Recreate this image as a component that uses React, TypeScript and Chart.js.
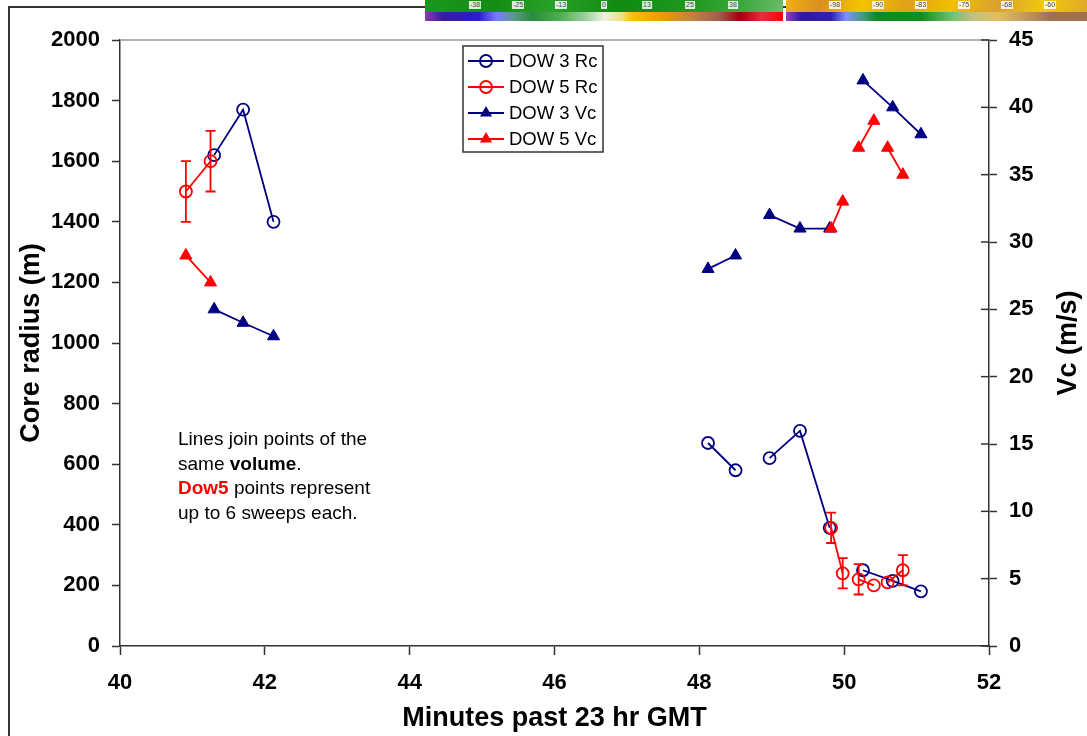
import React, { useEffect, useRef } from "react";
import { Chart, registerables } from "chart.js";

Chart.register(...registerables);

// ---------- data ----------
const dow3Time = [41.3, 41.7, 42.12, 48.12, 48.5, 48.97, 49.39, 49.8, 50.26, 50.67, 51.06];
const dow3Volume = [1, 1, 1, 2, 2, 3, 3, 3, 4, 4, 4];
const dow3Rc = [1620, 1770, 1400, 670, 580, 620, 710, 390, 250, 215, 180];
const dow3Vc = [25, 24, 23, 28, 29, 32, 31, 31, 42, 40, 38];

const dow5Time = [40.91, 41.25, 49.82, 49.98, 50.2, 50.41, 50.6, 50.81];
const dow5Volume = [1, 1, 2, 2, 3, 3, 4, 4];
const dow5Rc = [1500, 1600, 390, 240, 220, 200, 210, 250];
const dow5RcErr = [100, 100, 50, 50, 50, 0, 0, 50];
const dow5Vc = [29, 27, 31, 33, 37, 39, 37, 35];

const seriesLabels = ["DOW 3 Rc", "DOW 5 Rc", "DOW 3 Vc", "DOW 5 Vc"];

const xTitle = "Minutes past 23 hr GMT";
const yTitle = "Core radius (m)";
const y1Title = "Vc (m/s)";

const leftBarLabels = ["-38", "-25", "-13", "0", "13", "25", "38"];
const rightBarLabels = ["-98", "-90", "-83", "-75", "-68", "-60"];

const NAVY = "#000080";
const RED = "#ff0000";
const FONT = "'Liberation Sans', Arial, Helvetica, sans-serif";

function toPoints(times: number[], vols: number[], vals: number[]) {
  const out: { x: number; y: number | null }[] = [];
  for (let i = 0; i < times.length; i++) {
    if (i > 0 && vols[i] !== vols[i - 1]) {
      out.push({ x: (times[i - 1] + times[i]) / 2, y: null });
    }
    out.push({ x: times[i], y: vals[i] });
  }
  return out;
}

function drawMarker(ctx: CanvasRenderingContext2D, style: string, x: number, y: number, color: string) {
  ctx.save();
  ctx.strokeStyle = color;
  ctx.fillStyle = color;
  ctx.lineWidth = 1.8;
  ctx.beginPath();
  if (style === "circle") {
    ctx.arc(x, y, 6, 0, Math.PI * 2);
    ctx.stroke();
  } else {
    const r = 7;
    let a = 0;
    ctx.moveTo(x + Math.sin(a) * r, y - Math.cos(a) * r);
    a += (2 * Math.PI) / 3;
    ctx.lineTo(x + Math.sin(a) * r, y - Math.cos(a) * r);
    a += (2 * Math.PI) / 3;
    ctx.lineTo(x + Math.sin(a) * r, y - Math.cos(a) * r);
    ctx.closePath();
    ctx.fill();
  }
  ctx.restore();
}

const decorPlugin = {
  id: "decor",
  afterDatasetsDraw(chart: any) {
    const ctx: CanvasRenderingContext2D = chart.ctx;
    const xs = chart.scales.x;
    const ys = chart.scales.y;
    // error bars for DOW 5 Rc
    ctx.save();
    ctx.strokeStyle = RED;
    ctx.lineWidth = 1.8;
    for (let i = 0; i < dow5Time.length; i++) {
      const e = dow5RcErr[i];
      if (!e) continue;
      const px = xs.getPixelForValue(dow5Time[i]);
      const top = ys.getPixelForValue(dow5Rc[i] + e);
      const bot = ys.getPixelForValue(dow5Rc[i] - e);
      ctx.beginPath();
      ctx.moveTo(px, top);
      ctx.lineTo(px, bot);
      ctx.moveTo(px - 5, top);
      ctx.lineTo(px + 5, top);
      ctx.moveTo(px - 5, bot);
      ctx.lineTo(px + 5, bot);
      ctx.stroke();
    }
    ctx.restore();
  },
  afterDraw(chart: any) {
    const ctx: CanvasRenderingContext2D = chart.ctx;
    const area = chart.chartArea;
    const y1 = chart.scales.y1;
    ctx.save();
    // plot area top border (gray)
    ctx.strokeStyle = "#9a9a9a";
    ctx.lineWidth = 1.5;
    ctx.beginPath();
    ctx.moveTo(area.left, area.top);
    ctx.lineTo(area.right, area.top);
    ctx.stroke();
    // inside part of right axis ticks
    ctx.strokeStyle = "#333";
    ctx.lineWidth = 1.5;
    y1.ticks.forEach((t: any) => {
      const py = y1.getPixelForValue(t.value);
      ctx.beginPath();
      ctx.moveTo(area.right - 8, py);
      ctx.lineTo(area.right, py);
      ctx.stroke();
    });
    // right axis title (reads bottom-up)
    ctx.translate(1069, (area.top + area.bottom) / 2);
    ctx.rotate(-Math.PI / 2);
    ctx.fillStyle = "#000";
    ctx.font = `bold 27px ${FONT}`;
    ctx.textAlign = "center";
    ctx.textBaseline = "middle";
    ctx.fillText(y1Title, 0, 0);
    ctx.restore();

    // legend box
    ctx.save();
    const bx = 463, by = 46, bw = 140, bh = 106;
    ctx.fillStyle = "#fff";
    ctx.fillRect(bx, by, bw, bh);
    ctx.strokeStyle = "#333";
    ctx.lineWidth = 1.5;
    ctx.strokeRect(bx, by, bw, bh);
    const colors = [NAVY, RED, NAVY, RED];
    const styles = ["circle", "circle", "triangle", "triangle"];
    ctx.font = `18.5px ${FONT}`;
    ctx.textBaseline = "middle";
    ctx.textAlign = "left";
    for (let i = 0; i < seriesLabels.length; i++) {
      const cy = 61 + i * 26;
      ctx.strokeStyle = colors[i];
      ctx.lineWidth = 1.8;
      ctx.beginPath();
      ctx.moveTo(468, cy);
      ctx.lineTo(504, cy);
      ctx.stroke();
      drawMarker(ctx, styles[i], 486, cy, colors[i]);
      ctx.fillStyle = "#000";
      ctx.fillText(seriesLabels[i], 509, cy + 1);
    }
    ctx.restore();
  },
};

const tickFont = { family: FONT, size: 22, weight: "bold" as const };
const titleFont = { family: FONT, size: 27, weight: "bold" as const };
const plainLabel = (v: any) => String(v);

export default function App() {
  const ref = useRef<HTMLCanvasElement>(null);

  useEffect(() => {
    const canvas = ref.current;
    if (!canvas) return;
    const lineBase = {
      type: "line" as const,
      showLine: true,
      spanGaps: false,
      tension: 0,
      borderWidth: 1.8,
      pointBorderWidth: 1.8,
    };
    const chart = new Chart(canvas, {
      type: "line",
      data: {
        datasets: [
          {
            ...lineBase,
            label: seriesLabels[0],
            data: toPoints(dow3Time, dow3Volume, dow3Rc) as any,
            borderColor: NAVY,
            pointBorderColor: NAVY,
            pointBackgroundColor: "rgba(0,0,0,0)",
            pointStyle: "circle",
            pointRadius: 6,
            yAxisID: "y",
            order: 4,
          },
          {
            ...lineBase,
            label: seriesLabels[1],
            data: toPoints(dow5Time, dow5Volume, dow5Rc) as any,
            borderColor: RED,
            pointBorderColor: RED,
            pointBackgroundColor: "rgba(0,0,0,0)",
            pointStyle: "circle",
            pointRadius: 6,
            yAxisID: "y",
            order: 3,
          },
          {
            ...lineBase,
            label: seriesLabels[2],
            data: toPoints(dow3Time, dow3Volume, dow3Vc) as any,
            borderColor: NAVY,
            pointBorderColor: NAVY,
            pointBackgroundColor: NAVY,
            pointStyle: "triangle",
            pointRadius: 7,
            pointBorderWidth: 1,
            yAxisID: "y1",
            order: 2,
          },
          {
            ...lineBase,
            label: seriesLabels[3],
            data: toPoints(dow5Time, dow5Volume, dow5Vc) as any,
            borderColor: RED,
            pointBorderColor: RED,
            pointBackgroundColor: RED,
            pointStyle: "triangle",
            pointRadius: 7,
            pointBorderWidth: 1,
            yAxisID: "y1",
            order: 1,
          },
        ],
      },
      options: {
        responsive: false,
        animation: false,
        devicePixelRatio: 1,
        layout: { padding: { top: 40, left: 0, right: 0, bottom: 0 } },
        plugins: {
          legend: { display: false },
          tooltip: { enabled: false },
        },
        scales: {
          x: {
            type: "linear",
            min: 40,
            max: 52,
            ticks: { stepSize: 2, font: tickFont, color: "#000", padding: 15, maxRotation: 0, callback: plainLabel },
            grid: { drawOnChartArea: false, drawTicks: true, tickLength: 9, tickColor: "#333", tickWidth: 1.5 },
            border: { display: true, color: "#333", width: 1.5 },
            title: { display: true, text: xTitle, font: titleFont, color: "#000", padding: { top: 0, bottom: 1 } },
            afterFit: (s: any) => {
              s.height = 90;
            },
          },
          y: {
            type: "linear",
            position: "left",
            min: 0,
            max: 2000,
            ticks: { stepSize: 200, font: tickFont, color: "#000", padding: 12, callback: plainLabel },
            grid: { drawOnChartArea: false, drawTicks: true, tickLength: 8, tickColor: "#333", tickWidth: 1.5 },
            border: { display: true, color: "#333", width: 1.5 },
            title: { display: true, text: yTitle, font: titleFont, color: "#000", padding: { top: 15, bottom: 0 } },
            afterFit: (s: any) => {
              s.width = 120;
            },
          },
          y1: {
            type: "linear",
            position: "right",
            min: 0,
            max: 45,
            ticks: { stepSize: 5, font: tickFont, color: "#000", padding: 12, callback: plainLabel },
            grid: { drawOnChartArea: false, drawTicks: true, tickLength: 8, tickColor: "#333", tickWidth: 1.5 },
            border: { display: true, color: "#333", width: 1.5 },
            title: { display: false },
            afterFit: (s: any) => {
              s.width = 98;
            },
          },
        },
      },
      plugins: [decorPlugin],
    } as any);
    return () => chart.destroy();
  }, []);

  const labelBox: React.CSSProperties = {
    position: "absolute",
    top: 1,
    transform: "translateX(-50%)",
    fontFamily: FONT,
    fontSize: 7,
    lineHeight: "8px",
    padding: "0 1px",
    background: "rgba(255,255,255,0.85)",
    color: "#444",
  };

  return (
    <div
      style={{
        position: "fixed",
        left: 0,
        top: 0,
        width: 1087,
        height: 736,
        background: "#fff",
        overflow: "hidden",
      }}
    >
      {/* outer frame */}
      <div
        style={{
          position: "absolute",
          left: 8,
          top: 6,
          width: 1200,
          height: 800,
          borderLeft: "2px solid #333",
          borderTop: "2px solid #333",
        }}
      />
      <canvas ref={ref} width={1087} height={736} style={{ position: "absolute", left: 0, top: 0 }} />
      {/* color bar strips at the top */}
      <div style={{ position: "absolute", left: 425, top: 0, width: 358, height: 21, background: "#fff" }}>
        <div
          style={{
            position: "absolute",
            left: 0,
            top: 0,
            width: 358,
            height: 12,
            background:
              "linear-gradient(100deg, #1c961c 0%, #148c14 20%, #2aa02a 35%, #118a11 55%, #209a20 75%, #3aa83a 88%, #6cbc6c 100%)",
          }}
        />
        <div
          style={{
            position: "absolute",
            left: 0,
            top: 12,
            width: 358,
            height: 9,
            background:
              "linear-gradient(90deg, #8a3cb0 0%, #3a1aa0 5%, #2a20c0 15%, #7a7aff 20%, #5a9a8a 25%, #2a8a3a 30%, #50b050 38%, #a0d0a0 45%, #f0f0e0 50%, #f0e080 55%, #f5c000 58%, #f0a000 65%, #c08040 75%, #a06050 82%, #a00010 88%, #e03040 94%, #ff0000 100%)",
          }}
        />
        {leftBarLabels.map((l, i) => (
          <div key={l} style={{ ...labelBox, left: 50 + i * 43 }}>
            {l}
          </div>
        ))}
      </div>
      <div style={{ position: "absolute", left: 786, top: 0, width: 301, height: 21, background: "#fff" }}>
        <div
          style={{
            position: "absolute",
            left: 0,
            top: 0,
            width: 301,
            height: 12,
            background:
              "linear-gradient(110deg, #f0b010 0%, #d89020 12%, #f5c400 25%, #e0a018 40%, #f0c000 55%, #d8a030 70%, #f2c810 85%, #e0a828 100%)",
          }}
        />
        <div
          style={{
            position: "absolute",
            left: 0,
            top: 12,
            width: 301,
            height: 9,
            background:
              "linear-gradient(90deg, #9040c0 0%, #3018a0 5%, #3020b0 15%, #8090ff 20%, #4a9a8a 25%, #108a20 30%, #10901a 45%, #70c070 55%, #c0c080 62%, #e0c060 70%, #c8a060 78%, #a07050 88%, #a07050 100%)",
          }}
        />
        {rightBarLabels.map((l, i) => (
          <div key={l} style={{ ...labelBox, left: 49 + i * 43 }}>
            {l}
          </div>
        ))}
      </div>
      {/* annotation */}
      <div
        style={{
          position: "absolute",
          left: 178,
          top: 427,
          fontFamily: FONT,
          fontSize: 19,
          lineHeight: "24.5px",
          color: "#000",
          whiteSpace: "nowrap",
        }}
      >
        Lines join points of the
        <br />
        same <b>volume</b>.
        <br />
        <b style={{ color: RED }}>Dow5</b> points represent
        <br />
        up to 6 sweeps each.
      </div>
    </div>
  );
}
